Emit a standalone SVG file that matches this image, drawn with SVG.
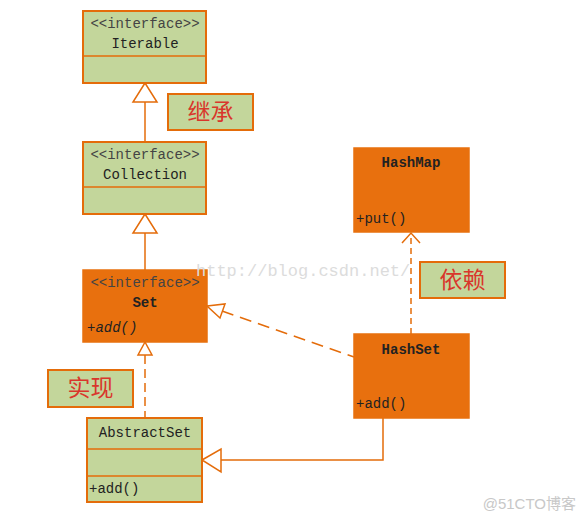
<svg xmlns="http://www.w3.org/2000/svg" width="586" height="522" viewBox="0 0 586 522">
<style>
.g{fill:#C3D69B;stroke:#E46C0A;stroke-width:2}
.o{fill:#E8700E;stroke:#E8700E;stroke-width:1.5}
.t{font-family:"Liberation Mono",monospace;font-size:14px;fill:#222}
.st{font-family:"Liberation Mono",monospace;font-size:14px;fill:#444}
.b{font-weight:bold}
.c{text-anchor:middle}
.zh{font-family:"Noto Sans CJK SC","Noto Sans",sans-serif;font-size:23px;fill:#D9362B;text-anchor:middle}
.ln{fill:none;stroke:#E46C0A;stroke-width:1.5}
.d{stroke-dasharray:9,5}
.d2{stroke-dasharray:12,7}
.d3{stroke-dasharray:6,4}
.tri{fill:#fff;stroke:#E46C0A;stroke-width:1.5}
.wm{font-family:"Liberation Mono",monospace;font-size:17px;fill:#dcdcdc}
</style>
<g id="connectors">
  <line class="ln" x1="145" y1="102" x2="145" y2="142"/>
  <polygon class="tri" points="145,83 133,102 157,102"/>
  <line class="ln" x1="145" y1="233" x2="145" y2="270"/>
  <polygon class="tri" points="145,214 133,233 157,233"/>
  <line class="ln d" x1="145" y1="355" x2="145" y2="418"/>
  <polygon class="tri" points="145,342 138,355 152,355"/>
  <line class="ln d2" x1="222" y1="311" x2="354" y2="357"/>
  <polygon class="tri" points="207,306 225,304 220,318"/>
  <polyline class="ln" points="383,418 383,460 221,460"/>
  <polygon class="tri" points="202,460 221,449 221,472"/>
  <line class="ln d3" x1="411" y1="334" x2="411" y2="233"/>
  <polyline class="ln" points="402,243 411,233 420,243"/>
</g>
<g id="Iterable">
  <rect class="g" x="83" y="11" width="123" height="72"/>
  <line class="ln" x1="83" y1="56" x2="206" y2="56"/>
  <text class="st c" x="145" y="28">&lt;&lt;interface&gt;&gt;</text>
  <text class="t c" x="145" y="48">Iterable</text>
</g>
<g id="Collection">
  <rect class="g" x="83" y="142" width="123" height="72"/>
  <line class="ln" x1="83" y1="187" x2="206" y2="187"/>
  <text class="st c" x="145" y="159">&lt;&lt;interface&gt;&gt;</text>
  <text class="t c" x="145" y="179">Collection</text>
</g>
<g id="Set">
  <rect class="o" x="83" y="270" width="124" height="72"/>
  <text class="st c" x="145" y="287">&lt;&lt;interface&gt;&gt;</text>
  <text class="t c b" x="145" y="307">Set</text>
  <text class="t" x="87" y="332" font-style="italic">+add()</text>
</g>
<g id="AbstractSet">
  <rect class="g" x="87" y="418" width="115" height="84"/>
  <line class="ln" x1="87" y1="449" x2="202" y2="449"/>
  <line class="ln" x1="87" y1="476" x2="202" y2="476"/>
  <text class="t c" x="145" y="437">AbstractSet</text>
  <text class="t" x="89" y="493">+add()</text>
</g>
<g id="HashMap">
  <rect class="o" x="354" y="148" width="115" height="84"/>
  <text class="t c b" x="411" y="167">HashMap</text>
  <text class="t" x="356" y="223">+put()</text>
</g>
<g id="HashSet">
  <rect class="o" x="354" y="334" width="115" height="84"/>
  <text class="t c b" x="411" y="354">HashSet</text>
  <text class="t" x="356" y="408">+add()</text>
</g>
<g id="label-inherit">
  <rect class="g" x="168" y="94" width="85" height="36"/>
  <text class="zh" x="210.5" y="120">继承</text>
</g>
<g id="label-implement">
  <rect class="g" x="48" y="370" width="85" height="37"/>
  <text class="zh" x="90.5" y="396">实现</text>
</g>
<g id="label-depend">
  <rect class="g" x="420" y="262" width="85" height="36"/>
  <text class="zh" x="462.5" y="288">依赖</text>
</g>
<text class="wm" x="196" y="276">http://blog.csdn.net/</text>
<text x="576" y="509" text-anchor="end" font-family="'Liberation Sans','Noto Sans CJK SC',sans-serif" font-size="15" fill="#c8c8c8">@51CTO博客</text>
</svg>
